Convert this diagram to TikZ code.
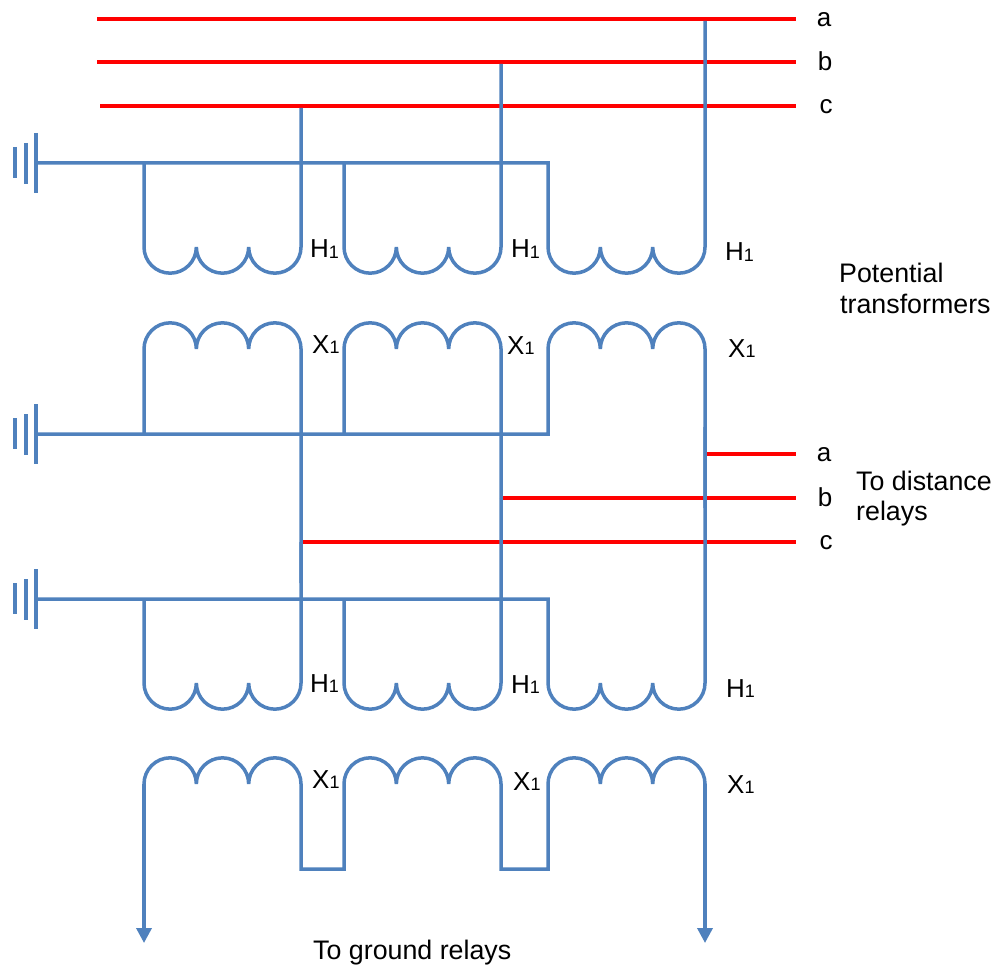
\documentclass[tikz,border=0pt]{standalone}
\usepackage{fontspec}
\setmainfont{Liberation Sans}
\usetikzlibrary{arrows.meta}
\definecolor{wireblue}{HTML}{4F81BD}
\definecolor{phred}{HTML}{FF0000}
\tikzset{
  wire/.style={draw=wireblue, line width=3.5pt},
  phase/.style={draw=phred, line width=3.8pt},
  gndbar/.style={draw=wireblue, line width=3.4pt},
  lbl/.style={inner sep=0pt, font=\fontsize{26}{30}\selectfont},
  txt/.style={inner sep=0pt, font=\fontsize{26.8}{30}\selectfont},
  loopd/.style={start angle=180, end angle=360, radius=26.17},
  loopu/.style={start angle=180, end angle=0, radius=26.17},
  gtip/.tip={Triangle[width=15pt,length=15pt]},
  pics/earth/.style={code={
    \draw[gndbar] (0,30) -- (0,-30);
    \draw[gndbar] (-10,20) -- (-10,-21);
    \draw[gndbar] (-21,16) -- (-21,-15);
  }}
}
\newcommand\subone{\raisebox{-0.5pt}{\fontsize{18}{18}\selectfont 1}}
\begin{document}
\begin{tikzpicture}[x=1pt,y=1pt]
\useasboundingbox (0,0) rectangle (995,-965);

% ---------- line phases a b c (top)
\coordinate (la0) at (97,-19);  \coordinate (la1) at (796,-19);
\coordinate (lb0) at (97,-62);  \coordinate (lb1) at (796,-62);
\coordinate (lc0) at (100,-106); \coordinate (lc1) at (796,-106);
\draw[phase] (la0) -- (la1);
\draw[phase] (lb0) -- (lb1);
\draw[phase] (lc0) -- (lc1);
\node[lbl] (ta) at (824,-20) {a};
\node[lbl] (tb) at (825,-61.5) {b};
\node[lbl] (tc) at (826,-107) {c};

% ---------- to distance relays
\coordinate (da0) at (706.5,-454); \coordinate (da1) at (796,-454);
\coordinate (db0) at (502.5,-498); \coordinate (db1) at (796,-498);
\coordinate (dc0) at (302.5,-542); \coordinate (dc1) at (796,-542);
\draw[phase] (da0) -- (da1);
\draw[phase] (db0) -- (db1);
\draw[phase] (dc0) -- (dc1);
\node[lbl] (ma) at (824,-455) {a};
\node[lbl] (mb) at (825,-497) {b};
\node[lbl] (mc) at (826,-543) {c};

% ---------- grounds
\pic (e1) at (36,-163) {earth};
\pic (e2) at (36,-434) {earth};
\pic (e3) at (36,-599) {earth};

% ---------- main PT primaries
\draw[wire] (144,-163) -- (144,-247) arc[loopd] +(0,0) arc[loopd] +(0,0) arc[loopd] -- (301,-107.9);
\draw[wire] (344,-163) -- (344,-247) arc[loopd] +(0,0) arc[loopd] +(0,0) arc[loopd] -- (501,-63.9);
\draw[wire] (36,-163) -- (548,-163) -- (548,-247) arc[loopd] +(0,0) arc[loopd] +(0,0) arc[loopd] -- (705,-20.9);

% ---------- main PT secondaries
\draw[wire] (144,-434) -- (144,-349) arc[loopu] +(0,0) arc[loopu] +(0,0) arc[loopu] -- (301,-583);
\draw[wire] (344,-434) -- (344,-349) arc[loopu] +(0,0) arc[loopu] +(0,0) arc[loopu] -- (501,-498);
\draw[wire] (36,-434) -- (548,-434) -- (548,-349) arc[loopu] +(0,0) arc[loopu] +(0,0) arc[loopu] -- (705,-508);

% ---------- auxiliary PT primaries
\draw[wire] (144,-599) -- (144,-683) arc[loopd] +(0,0) arc[loopd] +(0,0) arc[loopd] -- (301,-542);
\draw[wire] (344,-599) -- (344,-683) arc[loopd] +(0,0) arc[loopd] +(0,0) arc[loopd] -- (501,-498);
\draw[wire] (36,-599) -- (548,-599) -- (548,-683) arc[loopd] +(0,0) arc[loopd] +(0,0) arc[loopd] -- (705,-427);

% ---------- auxiliary PT secondaries (broken delta)
\coordinate (gr0) at (144,-943);
\coordinate (gr1) at (705,-943);
\coordinate (s1) at (144,-784);
\coordinate (s2) at (344,-784);
\coordinate (s3) at (548,-784);
\coordinate (s4) at (705,-784);
\draw[wire, -gtip] (s1) -- (gr0);
\draw[wire] (s1) arc[loopu] +(0,0) arc[loopu] +(0,0) arc[loopu]
   -- (301,-869) -- (344,-869) -- (s2);
\draw[wire] (s2) arc[loopu] +(0,0) arc[loopu] +(0,0) arc[loopu]
   -- (501,-869) -- (548,-869) -- (s3);
\draw[wire] (s3) arc[loopu] +(0,0) arc[loopu] +(0,0) arc[loopu];
\draw[wire, -gtip] (s4) -- (gr1);

% ---------- terminal labels
\node[lbl, anchor=base west] (h11) at (310,-258) {H\subone};
\node[lbl, anchor=base west] (h12) at (511,-258) {H\subone};
\node[lbl, anchor=base west] (h13) at (725,-261) {H\subone};
\node[lbl, anchor=base west] (x11) at (312,-353) {X\subone};
\node[lbl, anchor=base west] (x12) at (507,-354) {X\subone};
\node[lbl, anchor=base west] (x13) at (728,-357) {X\subone};
\node[lbl, anchor=base west] (h21) at (310,-692) {H\subone};
\node[lbl, anchor=base west] (h22) at (511,-693) {H\subone};
\node[lbl, anchor=base west] (h23) at (726,-697) {H\subone};
\node[lbl, anchor=base west] (x21) at (312,-788) {X\subone};
\node[lbl, anchor=base west] (x22) at (513,-790) {X\subone};
\node[lbl, anchor=base west] (x23) at (727,-793) {X\subone};

% ---------- descriptive texts
\node[txt, anchor=base west] (pt1) at (839,-283) {Potential};
\node[txt, anchor=base west] (pt2) at (840,-313) {transformers};
\node[txt, anchor=base west] (dr1) at (856,-490) {To distance};
\node[txt, anchor=base west] (dr2) at (856,-520) {relays};
\node[txt, anchor=base west] (gr) at (313,-959) {To ground relays};
\end{tikzpicture}
\end{document}
